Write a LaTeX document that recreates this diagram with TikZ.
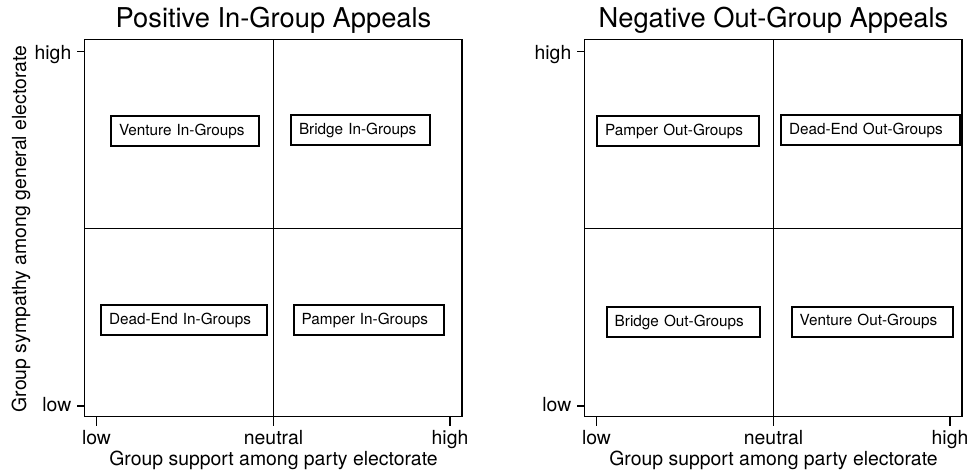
\documentclass[tikz,border=0pt]{standalone}
\usepackage{fontspec}
\setmainfont{TeX Gyre Heros}
\usetikzlibrary{positioning}

\begin{document}
\begin{tikzpicture}[
        x=1pt, y=-1pt,
        font=\fontsize{19.4}{22}\selectfont,
        panel/.style={line width=1.5pt},
        divider/.style={line width=1pt},
        tickmark/.style={line width=1.5pt},
        ticklabel/.style={inner sep=0pt},
        paneltitle/.style={inner sep=0pt, anchor=base, font=\fontsize{27.3}{30}\selectfont},
        quadbox/.style={draw, line width=2pt, inner xsep=8pt, inner ysep=0pt, minimum height=30pt, align=left, anchor=north west, font=\fontsize{15.3}{18}\selectfont}
    ]
        \useasboundingbox (0,0) rectangle (970,471);
        % two panels, right one shifted by 500
        \foreach \dx/\pre/\heading in {0/pos/Positive In-Group Appeals, 500/neg/Negative Out-Group Appeals}{
            \begin{scope}[xshift=\dx pt]
                \draw[panel] (84.3,39.5) rectangle (462,416.7);
                \draw[divider] (273.3,39.5) -- (273.3,416.7);
                \draw[divider] (84.3,228) -- (462,228);
                \node[paneltitle] (\pre-title) at (273.5,27.3) {\heading};
                % y ticks
                \draw[tickmark] (77,51.7) -- (84.3,51.7);
                \draw[tickmark] (77,406) -- (84.3,406);
                \node[ticklabel, anchor=base east] (\pre-yhigh) at (71.5,59.3) {high};
                \node[ticklabel, anchor=base east] (\pre-ylow) at (71.5,411.7) {low};
                % x ticks
                \draw[tickmark] (96.7,416.7) -- (96.7,426);
                \draw[tickmark] (273.3,416.7) -- (273.3,426);
                \draw[tickmark] (450,416.7) -- (450,426);
                \node[ticklabel, anchor=base] (\pre-xlow) at (96.5,444) {low};
                \node[ticklabel, anchor=base] (\pre-xmid) at (273.5,444) {neutral};
                \node[ticklabel, anchor=base] (\pre-xhigh) at (450,444) {high};
                \node[ticklabel, anchor=base] (\pre-xtitle) at (273.5,465) {Group support among party electorate};
            \end{scope}
        }
        \node[ticklabel, anchor=base, rotate=90] (ytitle) at (26,229) {Group sympathy among general electorate};
        % quadrant labels
        \node[quadbox, text width=132pt] (venturein) at (110,115) {Venture In-Groups};
        \node[quadbox, text width=123pt] (bridgein) at (290,114.3) {Bridge In-Groups};
        \node[quadbox, text width=150pt] (deadendin) at (100,304) {Dead-End In-Groups};
        \node[quadbox, text width=134pt] (pamperin) at (292.7,304.3) {Pamper In-Groups};
        \node[quadbox, text width=146pt] (pamperout) at (596,115) {Pamper Out-Groups};
        \node[quadbox, text width=163pt] (deadendout) at (780,114.3) {Dead-End Out-Groups};
        \node[quadbox, text width=137pt] (bridgeout) at (605.7,306) {Bridge Out-Groups};
        \node[quadbox, text width=145pt] (ventureout) at (790.7,305.7) {Venture Out-Groups};
    \end{tikzpicture}
\end{document}
